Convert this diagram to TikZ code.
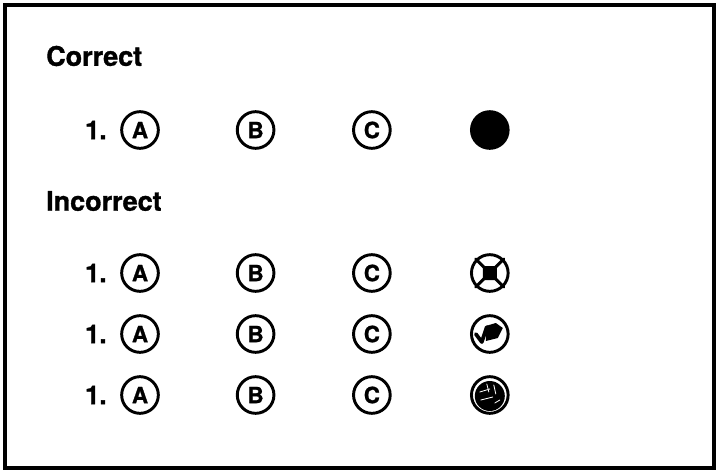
\documentclass[tikz,border=0pt]{standalone}
\usepackage{fontspec}
\setmainfont[BoldFeatures={FakeBold=1.2}]{TeX Gyre Heros}
\usetikzlibrary{positioning}
\tikzset{
  heading/.style={anchor=west, inner sep=0pt, font=\fontsize{23}{23}\selectfont\bfseries},
  itemno/.style={inner sep=0pt, font=\fontsize{22}{22}\selectfont\bfseries},
  bubble/.style={
    circle, draw, line width=2.5pt, minimum size=1.1cm,
    inner sep=0pt, font=\fontsize{19}{19}\selectfont\bfseries
  },
  blackdot/.style={bubble, fill=black},
  scrawl/.style={line width=2.6pt, line cap=round, line join=round}
}

\begin{document}
\begin{tikzpicture}[x=0.03cm, y=-0.03cm]
  \useasboundingbox (0,0) rectangle (717,473);
  \draw[line width=3pt] (5,5) rectangle (714,468);

  % correct
  \node[heading] (ok) at (46,56) {Correct};
  \node[bubble] (a1) at (140,130) {A};
  \node[itemno, left=0.4cm of a1] (n1) {1.};
  \node[bubble, right=2.28cm of a1] (b1) {B};
  \node[bubble, right=2.3cm of b1] (c1) {C};
  \node[blackdot, right=2.35cm of c1] (d1) {};

  % incorrect
  \node[heading] (bad) at (46,201) {Incorrect};
  \node[bubble] (a2) at (140,273) {A};
  \node[itemno, left=0.4cm of a2] (n2) {1.};
  \node[bubble, right=2.28cm of a2] (b2) {B};
  \node[bubble, right=2.3cm of b2] (c2) {C};
  \node[bubble, right=2.35cm of c2] (d2) {};

  \node[bubble] (a3) at (140,334) {A};
  \node[itemno, left=0.4cm of a3] (n3) {1.};
  \node[bubble, right=2.28cm of a3] (b3) {B};
  \node[bubble, right=2.3cm of b3] (c3) {C};
  \node[bubble, right=2.35cm of c3] (d3) {};

  \node[bubble] (a4) at (140,395) {A};
  \node[itemno, left=0.4cm of a4] (n4) {1.};
  \node[bubble, right=2.28cm of a4] (b4) {B};
  \node[bubble, right=2.3cm of b4] (c4) {C};
  \node[bubble, right=2.35cm of c4] (d4) {};

  % crossed out
  \draw[scrawl] (d2.45) -- (d2.225) (d2.135) -- (d2.315);
  \fill[rounded corners=1pt] ([shift={(-7,-7)}]d2.center) rectangle ([shift={(7,7)}]d2.center);
  % ticked
  \draw[scrawl, line width=3.2pt] ([shift={(-14,0)}]d3.center) -- ([shift={(-8,8)}]d3.center) -- ([shift={(-3,-7)}]d3.center);
  \fill ([shift={(-4,-8)}]d3.center) -- ([shift={(6,-11)}]d3.center)
    -- ([shift={(13,-6)}]d3.center) -- ([shift={(8,4)}]d3.center)
    -- ([shift={(-4,7)}]d3.center) -- cycle;
  % scribbled
  \fill ([shift={(0,1)}]d4.center) circle (15);
  \draw[white, line width=0.7pt, line cap=round] ([shift={(-3,-11)}]d4.center) -- ([shift={(-1,-3)}]d4.center)
    ([shift={(-10,-3)}]d4.center) -- ([shift={(0,-6)}]d4.center)
    ([shift={(-9,5)}]d4.center) -- ([shift={(3,2)}]d4.center)
    ([shift={(4,-10)}]d4.center) -- ([shift={(6,-1)}]d4.center)
    ([shift={(5,8)}]d4.center) -- ([shift={(10,5)}]d4.center);
\end{tikzpicture}
\end{document}
